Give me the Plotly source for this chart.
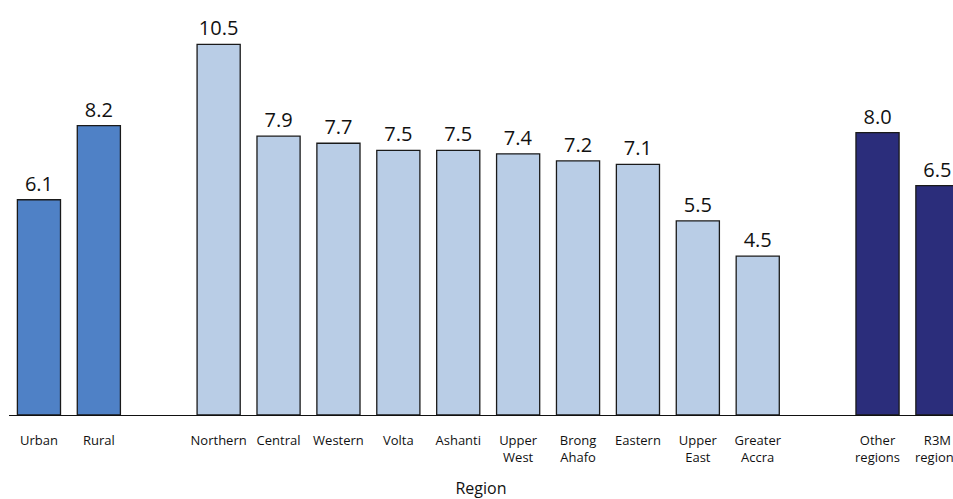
import plotly.graph_objects as go

# Data
area_labels = ["Urban", "Rural"]
area_values = [6.1, 8.2]

region_labels = ["Northern", "Central", "Western", "Volta", "Ashanti", "Upper<br>West",
                 "Brong<br>Ahafo", "Eastern", "Upper<br>East", "Greater<br>Accra"]
region_values = [10.5, 7.9, 7.7, 7.5, 7.5, 7.4, 7.2, 7.1, 5.5, 4.5]

group_labels = ["Other<br>regions", "R3M<br>regions"]
group_values = [8.0, 6.5]

# spacer categories (layout only)
category_order = area_labels + [" "] + region_labels + ["  "] + group_labels

FONT = "Open Sans"

def bar(x, y, color):
    return go.Bar(
        x=x, y=y,
        marker=dict(color=color, line=dict(color="#1a1a1a", width=1.3)),
        text=[f"{v:.1f}" for v in y],
        textposition="outside",
        textfont=dict(family=FONT, size=20, color="#111111"),
        cliponaxis=False,
        width=0.72,
        showlegend=False,
        hoverinfo="x+y",
    )

fig = go.Figure()
fig.add_trace(bar(area_labels, area_values, "#4F81C6"))
fig.add_trace(bar(region_labels, region_values, "#B9CDE6"))
fig.add_trace(bar(group_labels, group_values, "#2B2D7B"))

fig.update_layout(
    width=953, height=499,
    margin=dict(l=9, r=0, t=0, b=84, autoexpand=False),
    paper_bgcolor="white", plot_bgcolor="white",
    barmode="overlay",
    font=dict(family=FONT, color="#111111"),
    xaxis=dict(
        type="category",
        categoryorder="array", categoryarray=category_order,
        range=[-0.5, 15.26],
        automargin=False,
        showline=True, linecolor="#111111", linewidth=1,
        ticks="", showgrid=False, zeroline=False,
        tickfont=dict(family=FONT, size=13, color="#111111"),
        ticklabelstandoff=13,
        title=dict(text="Region", font=dict(family=FONT, size=16, color="#111111"), standoff=20),
    ),
    yaxis=dict(
        range=[0, 11.76],
        visible=False, showgrid=False, zeroline=False,
        automargin=False,
    ),
)

fig.write_html(
    "out.html",
    config={"displayModeBar": False},
    post_script="document.body.style.margin='0';document.body.style.overflow='hidden';",
)
